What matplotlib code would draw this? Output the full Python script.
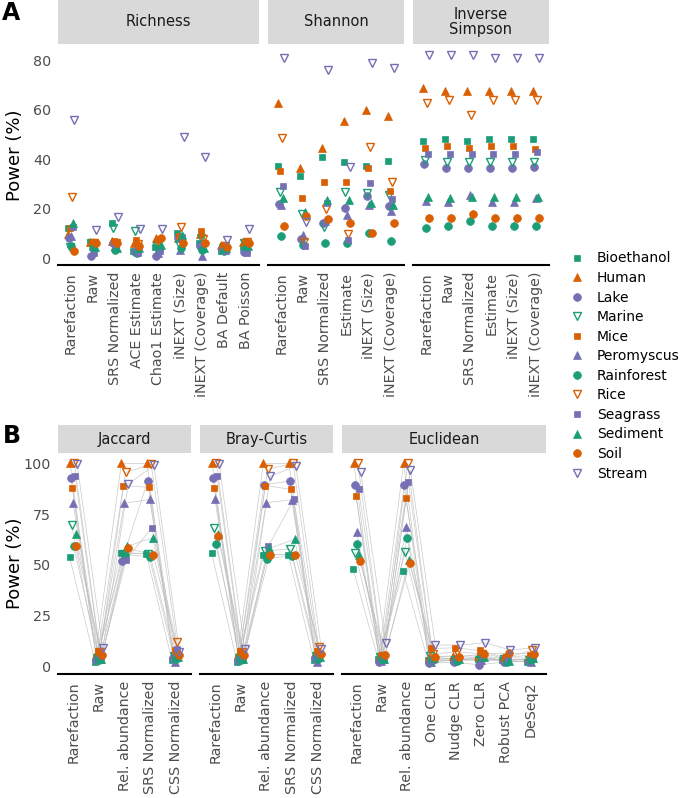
import matplotlib
matplotlib.use("Agg")
import matplotlib.pyplot as plt
import numpy as np
from matplotlib.lines import Line2D

datasets = ["Bioethanol", "Human", "Lake", "Marine", "Mice", "Peromyscus",
            "Rainforest", "Rice", "Seagrass", "Sediment", "Soil", "Stream"]

richness_methods = ["Rarefaction", "Raw", "SRS Normalized", "ACE Estimate", "Chao1 Estimate",
                    "iNEXT (Size)", "iNEXT (Coverage)", "BA Default", "BA Poisson"]
diversity_methods = ["Rarefaction", "Raw", "SRS Normalized", "Estimate",
                     "iNEXT (Size)", "iNEXT (Coverage)"]
beta_methods = ["Rarefaction", "Raw", "Rel. abundance", "SRS Normalized", "CSS Normalized"]
euclid_methods = ["Rarefaction", "Raw", "Rel. abundance", "One CLR", "Nudge CLR",
                  "Zero CLR", "Robust PCA", "DeSeq2"]

# power (%) per dataset (rows) and method (columns)
richness_power = [
    [12, 6.2, 14, 3, 4.5, 10, 6, 3, 4.5],
    [9.6, 6.5, 7, 6, 8.3, 8, 9.7, 5.4, 6.5],
    [8, 0.8, 6, 2.5, 0.8, 8.3, 5, 3.5, 2.5],
    [4.5, 6, 12.3, 10.9, 5, 5.7, 8, 4, 6],
    [12, 6, 7, 7.3, 7.5, 9, 10.9, 5, 6.3],
    [9, 5, 5, 4, 2, 3.2, 1, 4, 3.5],
    [5, 4, 3.2, 2, 3.2, 4, 3.2, 3, 4],
    [24.8, 6, 6, 5.5, 6.5, 12.6, 7.9, 5, 6.5],
    [12.6, 2, 5, 2, 3, 8.5, 6, 3, 2],
    [14, 4.6, 4, 4, 5.3, 9.3, 4, 4, 5],
    [3, 6.2, 6.2, 5, 8.3, 6.2, 6.2, 4.6, 6.2],
    [55.8, 11.3, 16.7, 11.6, 11.6, 48.8, 40.7, 7.5, 11.6],
]
shannon_power = [
    [37.2, 33.1, 40.9, 38.9, 37.3, 39.2],
    [62.8, 36.5, 44.6, 55.5, 59.8, 57.5],
    [22, 7.9, 14, 20.1, 25.1, 21],
    [26.8, 18, 12.7, 26.8, 26.1, 25.5],
    [35.1, 24.1, 30.8, 30.8, 36.2, 27.2],
    [21.4, 9.3, 15, 17.4, 21.4, 19.1],
    [8.9, 5.3, 5.9, 5.9, 10, 7],
    [48.6, 6.6, 19.7, 9.7, 45, 30.6],
    [29.1, 5, 22.1, 7.3, 30.2, 23.8],
    [24.4, 18.5, 23.4, 23.4, 22.3, 21.4],
    [13.1, 17.1, 15.8, 14, 10.2, 14],
    [80.7, 14.7, 76, 36.9, 78.9, 76.9],
]
invsimpson_power = [
    [47.3, 48.1, 47.3, 48.1, 48.1, 48.1],
    [68.6, 67.6, 67.6, 67.6, 67.6, 67.6],
    [38, 36.2, 36.2, 36.2, 36.2, 36.9],
    [39.6, 38.9, 38.9, 38.9, 38.9, 38.9],
    [44.3, 45.3, 44.3, 45.3, 45.3, 43.9],
    [23.2, 22.7, 25.5, 22.7, 22.7, 24.1],
    [12, 13.1, 15, 13.1, 13.1, 13.1],
    [62.8, 63.8, 57.8, 63.8, 63.8, 63.8],
    [42, 42, 42, 42, 42, 42.9],
    [24.5, 24.1, 24.5, 24.5, 24.5, 24.5],
    [16, 16, 18, 16, 16, 16],
    [82, 82, 82, 80.7, 80.7, 80.7],
]
jaccard_power = [
    [54, 2, 56, 55.5, 3],
    [100, 6, 100, 100, 6],
    [93, 3, 52, 91.3, 4],
    [69.6, 4, 55.5, 55.5, 5],
    [88, 7.5, 89, 88.2, 8],
    [80.3, 3.5, 80.3, 82.2, 2],
    [59, 3, 55, 54, 3.5],
    [100, 7, 95.5, 99.5, 12],
    [94, 3, 52.5, 68.2, 8.5],
    [65, 3.5, 59, 63.3, 4.5],
    [59, 5.4, 58, 55, 5.6],
    [99.5, 8.7, 89.8, 99, 7],
]
bray_power = [
    [56, 2, 55, 55, 3],
    [100, 6, 100, 100, 6.3],
    [93, 3, 89.3, 91.3, 4],
    [68, 4, 57, 57.6, 5],
    [88, 7.5, 89, 87.2, 7.5],
    [82.2, 3.5, 80.6, 82, 2],
    [60, 3, 53, 54.5, 3.5],
    [100, 7, 97, 100, 9.2],
    [94, 3, 59, 82.2, 5],
    [65, 3.5, 58, 62.5, 4.5],
    [64, 5.4, 55, 55, 6],
    [99.5, 8.5, 93.7, 98.5, 8.2],
]
euclid_power = [
    [47.9, 3.5, 46.9, 2.8, 3, 3.5, 3, 2],
    [100, 4.5, 100, 4.5, 5, 5, 4, 4],
    [89.3, 2, 89.3, 1.3, 2, 0.6, 2, 2.5],
    [55.9, 4.5, 56.4, 5, 3, 3, 3.5, 3],
    [83.9, 5, 83.1, 8.7, 9, 7.7, 4.2, 5.4],
    [66.3, 2.5, 68.4, 2, 3, 3, 2.5, 2],
    [60, 3.5, 63, 3, 2.5, 4.5, 1.9, 3],
    [100, 5, 100, 6, 7, 6, 4, 8],
    [87.2, 3, 90.9, 3, 4, 4, 3, 3.5],
    [54.8, 3.6, 52.3, 4, 3.5, 4.5, 2.5, 4],
    [52, 5.4, 51, 4.6, 4.6, 6, 6.3, 6],
    [95.9, 11.5, 96.7, 10.4, 10.4, 11.5, 8, 9],
]

# Dark2 colours and ggplot-like shapes, cycling over the datasets
palette = ["#1B9E77", "#D95F02", "#7570B3"]
shapes = ["s", "^", "o", "v"]
W, H = 683, 798
fig = plt.figure(figsize=(W / 100, H / 100), dpi=100)


def box(x0, y0, x1, y1):
    return [x0 / W, 1 - y1 / H, (x1 - x0) / W, (y1 - y0) / H]


def marker_style(i):
    shape = shapes[i % 4]
    color = palette[i % 3]
    size = {"s": 4.6, "^": 5.6, "o": 5.6, "v": 6.0}[shape]
    face = "none" if shape == "v" else color
    return dict(marker=shape, markersize=size, markerfacecolor=face,
                markeredgecolor=color, markeredgewidth=1.0 if shape == "v" else 0.5)


def draw_facet(x0, x1, y_strip, y_top, y_bottom, title, methods, values, ylim, yticks, show_y, lines):
    strip = fig.add_axes(box(x0, y_strip, x1, y_top))
    strip.set_facecolor("#D9D9D9")
    strip.set_xticks([])
    strip.set_yticks([])
    for s in strip.spines.values():
        s.set_visible(False)
    strip.text(0.5, 0.5, title, ha="center", va="center", fontsize=10.5, color="#1A1A1A",
               linespacing=1.0, transform=strip.transAxes)

    ax = fig.add_axes(box(x0, y_top, x1, y_bottom))
    x = np.arange(1, len(methods) + 1)
    for i in range(len(datasets)):
        offset = (i - 5.5) / 11 * 0.3
        if lines:
            ax.plot(x + offset, values[i], color="#BDBDBD", lw=0.5, alpha=0.8, zorder=1)
    for i in range(len(datasets)):
        offset = (i - 5.5) / 11 * 0.3
        ax.plot(x + offset, values[i], ls="none", zorder=3, **marker_style(i))
    ax.set_xlim(0.4, len(methods) + 0.6)
    ax.set_ylim(*ylim)
    ax.set_xticks(x, methods, rotation=90)
    ax.set_yticks(yticks)
    if not show_y:
        ax.set_yticklabels([])
    ax.tick_params(length=0, labelsize=10.3, labelcolor="#4D4D4D", pad=5)
    for side in ["top", "right", "left"]:
        ax.spines[side].set_visible(False)
    ax.spines["bottom"].set_linewidth(1.5)
    return ax


# Panel A: alpha diversity
a_ylim = (-2.8, 86.5)
a_ticks = [0, 20, 40, 60, 80]
draw_facet(58, 259, 0, 44, 265, "Richness", richness_methods, richness_power, a_ylim, a_ticks, True, False)
draw_facet(268, 404, 0, 44, 265, "Shannon", diversity_methods, shannon_power, a_ylim, a_ticks, False, False)
draw_facet(413, 549, 0, 44, 265, "Inverse\nSimpson", diversity_methods, invsimpson_power, a_ylim, a_ticks, False, False)

# Panel B: beta diversity
b_ylim = (-3.9, 105.1)
b_ticks = [0, 25, 50, 75, 100]
draw_facet(58, 191, 425, 453, 674, "Jaccard", beta_methods, jaccard_power, b_ylim, b_ticks, True, True)
draw_facet(200, 333, 425, 453, 674, "Bray-Curtis", beta_methods, bray_power, b_ylim, b_ticks, False, True)
draw_facet(342, 546, 425, 453, 674, "Euclidean", euclid_methods, euclid_power, b_ylim, b_ticks, False, True)

fig.text(15 / W, 1 - 155 / H, "Power (%)", rotation=90, ha="center", va="center", fontsize=13)
fig.text(15 / W, 1 - 563 / H, "Power (%)", rotation=90, ha="center", va="center", fontsize=13)
fig.text(2 / W, 1 - 1 / H, "A", fontsize=17, fontweight="bold", ha="left", va="top")
fig.text(3 / W, 1 - 424 / H, "B", fontsize=17, fontweight="bold", ha="left", va="top")

handles = [Line2D([], [], ls="none", **marker_style(i)) for i in range(len(datasets))]
fig.legend(handles, datasets, loc="center left", bbox_to_anchor=(571 / W, 1 - 366 / H),
           frameon=False, fontsize=10, labelspacing=0.4, handlelength=0.8,
           handletextpad=1.05, borderpad=0, borderaxespad=0)

fig.savefig("out.png", dpi=100)
